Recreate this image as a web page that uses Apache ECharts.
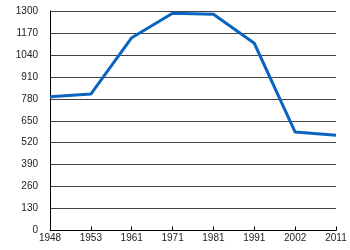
<!DOCTYPE html>
<html><head><meta charset="utf-8">
<script src="https://cdn.jsdelivr.net/npm/echarts@6/dist/echarts.min.js"></script>
<style>html,body{margin:0;padding:0;background:#fff}#c{width:350px;height:250px}</style>
</head><body><div id="c"></div>
<script>
var years = ['1948','1953','1961','1971','1981','1991','2002','2011'];
var values = [792, 808, 1142, 1287, 1281, 1109, 583, 564];
var yMin = 0, yMax = 1300, yStep = 130;

var chart = echarts.init(document.getElementById('c'), null, {renderer:'canvas'});
chart.setOption({
  animation:false,
  backgroundColor:'#fff',
  grid:{left:50, right:14, top:11, bottom:19.5},
  xAxis:{
    type:'category', data:years, boundaryGap:false,
    axisLine:{lineStyle:{color:'#000', width:1}},
    axisTick:{show:true, inside:true, length:4, lineStyle:{color:'#000'}},
    axisLabel:{color:'#222', fontSize:10, fontFamily:'Liberation Sans, Arial, sans-serif', margin:3, interval:0},
    splitLine:{show:false}
  },
  yAxis:{
    type:'value', min:yMin, max:yMax, interval:yStep,
    axisLine:{show:true, lineStyle:{color:'#000', width:1}},
    axisTick:{show:false},
    axisLabel:{color:'#222', fontSize:10, fontFamily:'Liberation Sans, Arial, sans-serif', margin:12,
      formatter:function(v){return String(v);}},
    splitLine:{show:true, lineStyle:{color:'#444', width:1}}
  },
  series:[{
    type:'line', data:values, symbol:'none',
    lineStyle:{color:'#0a64c0', width:3},
    itemStyle:{color:'#0a64c0'}
  }]
});
</script></body></html>
